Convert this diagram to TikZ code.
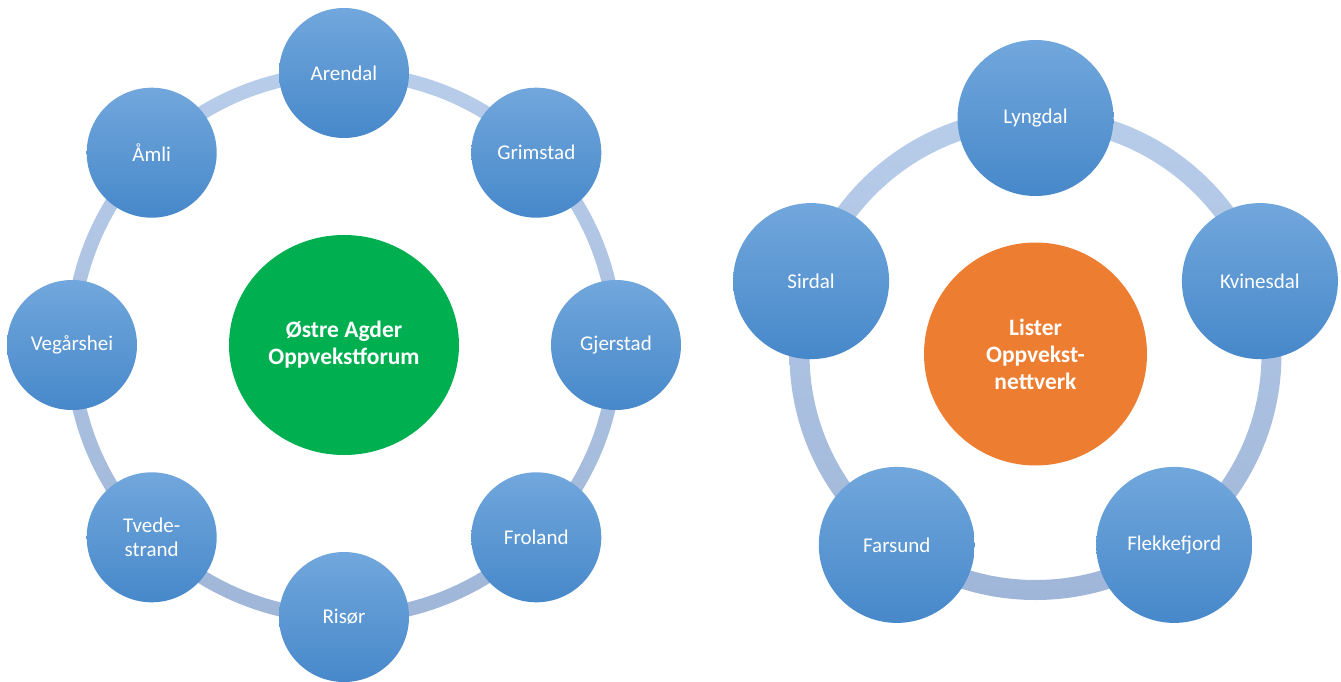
\documentclass[tikz,border=0pt]{standalone}
\usepackage{fontspec}
\usetikzlibrary{shapes.geometric}
\setmainfont{Carlito}
\definecolor{nodetop}{HTML}{71A7DC}
\definecolor{nodebot}{HTML}{4788CA}
\definecolor{ringtop}{HTML}{B8CDEA}
\definecolor{ringbot}{HTML}{A0B6D8}
\definecolor{hubgreen}{HTML}{00B050}
\definecolor{huborange}{HTML}{ED7D31}
\tikzset{
  member/.style={circle, inner sep=0pt, top color=nodetop, bottom color=nodebot,
    text=white, align=center, font=\fontsize{21}{24}\selectfont},
  smallmember/.style={member, minimum size=130pt},
  largemember/.style={member, minimum size=156pt},
  hub/.style={inner sep=0pt, text=white, align=center,
    font=\bfseries\fontsize{23.5}{27}\selectfont},
}
\begin{document}
\begin{tikzpicture}[x=1pt, y=-1pt]
\useasboundingbox (0,0) rectangle (1341,682);

% centres of the two networks
\coordinate (L) at (344,345);
\coordinate (R) at (1035.5,354);

% rings joining the members
\shade[top color=ringtop, bottom color=ringbot, even odd rule]
  (L) circle[radius=279] (L) circle[radius=265];
\shade[top color=ringtop, bottom color=ringbot, even odd rule]
  (R) circle[radius=246] (R) circle[radius=226];

% Østre Agder
\node[hub, fill=hubgreen, ellipse, minimum width=230pt, minimum height=220pt]
  (oa) at (L) {Østre Agder\\Oppvekstforum};
\node[smallmember] (arendal)  at (344,73)       {Arendal};
\node[smallmember] (grimstad) at (536.3,152.7)  {Grimstad};
\node[smallmember] (gjerstad) at (616,345)      {Gjerstad};
\node[smallmember] (froland)  at (536.3,537.3)  {Froland};
\node[smallmember] (risor)    at (344,617)      {Risør};
\node[smallmember] (tvede)    at (151.7,537.3)  {Tvede-\\strand};
\node[smallmember] (vegarshei) at (72,345)      {Vegårshei};
\node[smallmember] (amli)     at (151.7,152.7)  {Åmli};

% Lister
\node[hub, fill=huborange, circle, minimum size=223pt]
  (li) at (R) {Lister\\Oppvekst-\\nettverk};
\node[largemember] (lyngdal)   at (1035.5,118)   {Lyngdal};
\node[largemember] (kvinesdal) at (1259.9,281.1) {Kvinesdal};
\node[largemember] (flekke)    at (1174.2,544.9) {Flekkefjord};
\node[largemember] (farsund)   at (896.8,544.9)  {Farsund};
\node[largemember] (sirdal)    at (811.1,281.1)  {Sirdal};
\end{tikzpicture}
\end{document}
